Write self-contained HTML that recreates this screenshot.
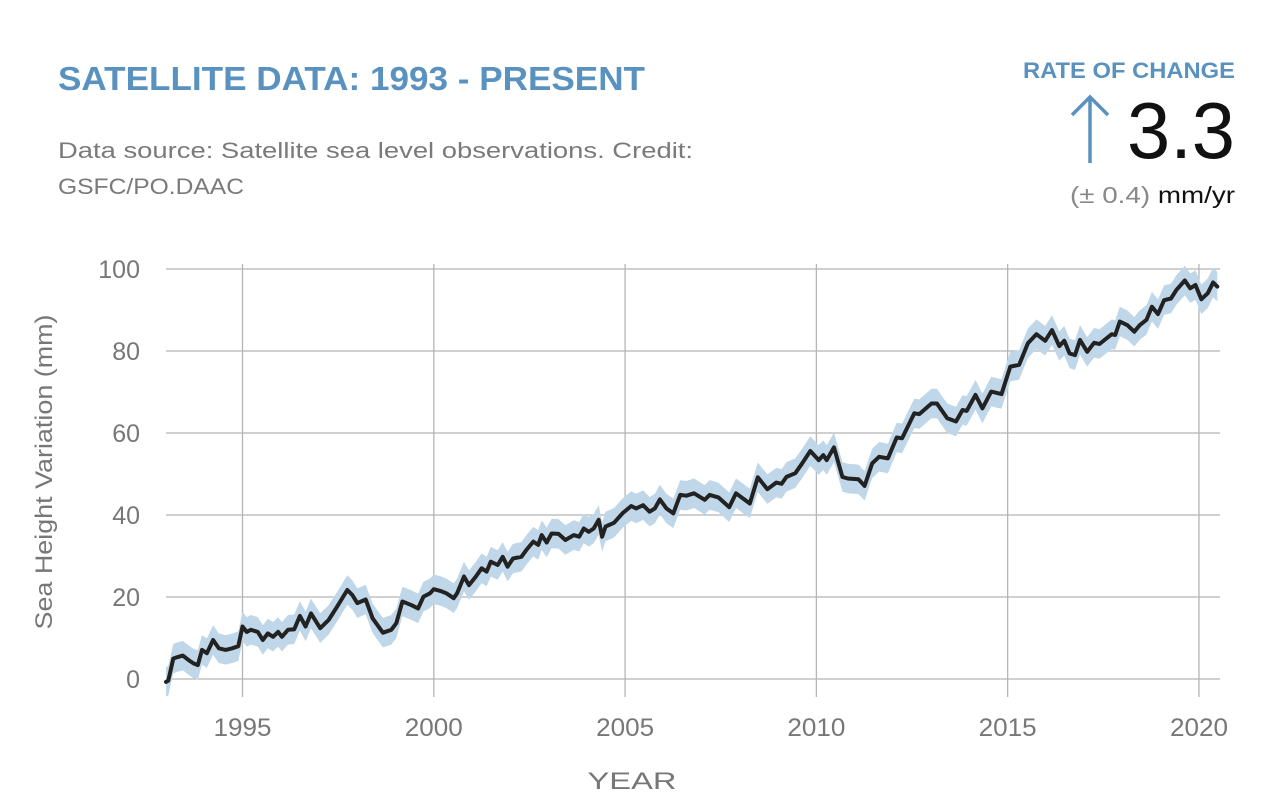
<!DOCTYPE html>
<html><head><meta charset="utf-8"><style>
html,body{margin:0;padding:0;background:#fff;}
svg{display:block;font-family:"Liberation Sans",sans-serif;}
</style></head><body>
<svg id="chart" width="1285" height="800" viewBox="0 0 1285 800">
  <text x="58" y="90" font-size="33" font-weight="bold" fill="#5a92bf" textLength="587" lengthAdjust="spacingAndGlyphs">SATELLITE DATA: 1993 - PRESENT</text>
  <text x="58" y="158" font-size="22" fill="#7a7a7a" textLength="635" lengthAdjust="spacingAndGlyphs">Data source: Satellite sea level observations. Credit:</text>
  <text x="58" y="194" font-size="22" fill="#7a7a7a" textLength="186" lengthAdjust="spacingAndGlyphs">GSFC/PO.DAAC</text>
  <text x="1235" y="78" font-size="22" font-weight="bold" fill="#5a92bf" text-anchor="end" textLength="212" lengthAdjust="spacingAndGlyphs">RATE OF CHANGE</text>
  <g stroke="#5a92bf" stroke-width="3.5" fill="none">
    <line x1="1090" y1="98" x2="1090" y2="163"/>
    <polyline points="1072,115 1090,97 1108,115"/>
  </g>
  <text x="1235" y="158" font-size="80" fill="#111" text-anchor="end" textLength="108" lengthAdjust="spacingAndGlyphs">3.3</text>
  <text x="1235" y="203" font-size="23" text-anchor="end" textLength="165" lengthAdjust="spacingAndGlyphs"><tspan fill="#888">(± 0.4) </tspan><tspan fill="#111">mm/yr</tspan></text>
  <g id="grid"></g>
  <g id="band"></g>
  <g id="line"></g>
  <g id="axes"></g>
  <text transform="translate(52,472) rotate(-90)" font-size="24" fill="#777" text-anchor="middle" textLength="315" lengthAdjust="spacingAndGlyphs">Sea Height Variation (mm)</text>
  <text x="632" y="789" font-size="24" fill="#777" text-anchor="middle" textLength="89" lengthAdjust="spacingAndGlyphs">YEAR</text>
</svg>
<script>
const years=[1993.0,1993.06,1993.19,1993.32,1993.44,1993.59,1993.72,1993.83,1993.94,1994.07,1994.23,1994.38,1994.56,1994.73,1994.89,1995.0,1995.11,1995.22,1995.4,1995.53,1995.66,1995.8,1995.93,1996.03,1996.19,1996.35,1996.5,1996.65,1996.79,1997.03,1997.25,1997.47,1997.74,1997.87,1998.0,1998.22,1998.4,1998.67,1998.89,1999.02,1999.18,1999.42,1999.59,1999.73,1999.9,2000.0,2000.17,2000.33,2000.52,2000.61,2000.79,2000.92,2001.1,2001.25,2001.38,2001.49,2001.67,2001.8,2001.93,2002.07,2002.29,2002.42,2002.6,2002.73,2002.82,2002.95,2003.08,2003.26,2003.44,2003.66,2003.8,2003.92,2004.05,2004.18,2004.31,2004.4,2004.49,2004.71,2004.93,2005.16,2005.29,2005.47,2005.64,2005.78,2005.91,2006.08,2006.26,2006.44,2006.6,2006.8,2007.08,2007.21,2007.44,2007.72,2007.9,2008.26,2008.47,2008.72,2008.95,2009.09,2009.22,2009.45,2009.63,2009.84,2010.06,2010.18,2010.27,2010.46,2010.68,2010.82,2011.1,2011.26,2011.46,2011.64,2011.87,2012.1,2012.24,2012.56,2012.69,2013.01,2013.15,2013.42,2013.65,2013.82,2013.93,2014.16,2014.34,2014.57,2014.84,2015.07,2015.3,2015.53,2015.75,2015.98,2016.16,2016.35,2016.48,2016.62,2016.76,2016.89,2017.08,2017.26,2017.4,2017.72,2017.81,2017.93,2018.13,2018.31,2018.45,2018.63,2018.77,2018.93,2019.09,2019.27,2019.41,2019.63,2019.77,2019.91,2020.06,2020.23,2020.37,2020.48];
const seaLevel=[-0.7,-0.4,5,5.4,5.7,4.6,3.8,3.4,7.1,6.3,9.5,7.5,7.1,7.5,8,12.8,11.5,12,11.5,9.5,11.1,10.3,11.5,10.3,12,12.1,15.4,12.8,16,12.4,14.4,17.6,21.7,20.5,18.5,19.4,14.8,11.3,12,13.6,18.9,18,17.2,20.1,20.9,21.9,21.5,20.9,19.7,20.9,25,22.9,25,27,26.2,28.6,27.8,29.8,27.4,29.4,29.8,31.5,33.5,32.7,35.1,33.3,35.5,35.4,33.9,35.1,34.7,36.7,35.9,36.7,38.8,34.7,37.2,38.1,40.4,42.2,41.6,42.4,40.8,41.6,43.8,41.6,40.4,44.9,44.7,45.3,43.7,44.9,44.3,41.9,45.3,42.8,49.2,46.3,47.9,47.6,49.3,50.2,52.6,55.6,53.4,54.6,53.4,56.5,49.3,48.9,48.7,47.1,52.6,54.2,53.8,58.9,58.7,64.8,64.6,67.2,67.2,63.6,62.8,65.6,65.4,69.3,66,70.1,69.5,76.2,76.6,81.9,84.1,82.5,85.1,81.2,82.5,79.4,79,82.7,79.8,82,81.7,84.1,83.9,87.2,86.3,84.7,86.3,87.6,90.8,89,92.4,92.8,94.9,97.2,95.3,96.1,92.6,94.1,96.7,95.7];
const uncertainty=3.6;
const yTicks=[0,20,40,60,80,100];
const xTicks=[1995,2000,2005,2010,2015,2020];

const NS='http://www.w3.org/2000/svg';
const X0=166,X1=1220,YR0=1993,YR1=2020.55;
const xs=v=>X0+(v-YR0)/(YR1-YR0)*(X1-X0);
const ys=v=>679-v*4.1;
function mk(tag,attrs,parent){const e=document.createElementNS(NS,tag);for(const k in attrs)e.setAttribute(k,attrs[k]);parent.appendChild(e);return e;}
const grid=document.getElementById('grid'),axes=document.getElementById('axes');
yTicks.forEach(t=>{
  const l=mk('line',{x1:X0,x2:X1,y1:ys(t),y2:ys(t),stroke:'#b5b5b5','stroke-width':1.3},grid);
  
  
  const tx=mk('text',{x:140,y:ys(t)+9,'font-size':25,fill:'#777','text-anchor':'end'},axes);
  tx.textContent=t;
  
  
});
xTicks.forEach(t=>{
  const l=mk('line',{x1:xs(t),x2:xs(t),y1:264,y2:697,stroke:'#b5b5b5','stroke-width':1.3},grid);
  
  
  const tx=mk('text',{x:xs(t),y:736,'font-size':25,fill:'#777','text-anchor':'middle',textLength:58,lengthAdjust:'spacingAndGlyphs'},axes);
  tx.textContent=t;
  
  
});
let up=years.map((y,i)=>xs(y).toFixed(1)+','+ys(seaLevel[i]+uncertainty).toFixed(1));
let dn=years.map((y,i)=>xs(y).toFixed(1)+','+ys(seaLevel[i]-uncertainty).toFixed(1)).reverse();
const band=mk('polygon',{points:up.concat(dn).join(' '),fill:'#bfd7e9'},document.getElementById('band'));


const line=mk('polyline',{points:years.map((y,i)=>xs(y).toFixed(1)+','+ys(seaLevel[i]).toFixed(1)).join(' '),fill:'none',stroke:'#222','stroke-width':4,'stroke-linejoin':'round','stroke-linecap':'round'},document.getElementById('line'));


</script>
</body></html>
